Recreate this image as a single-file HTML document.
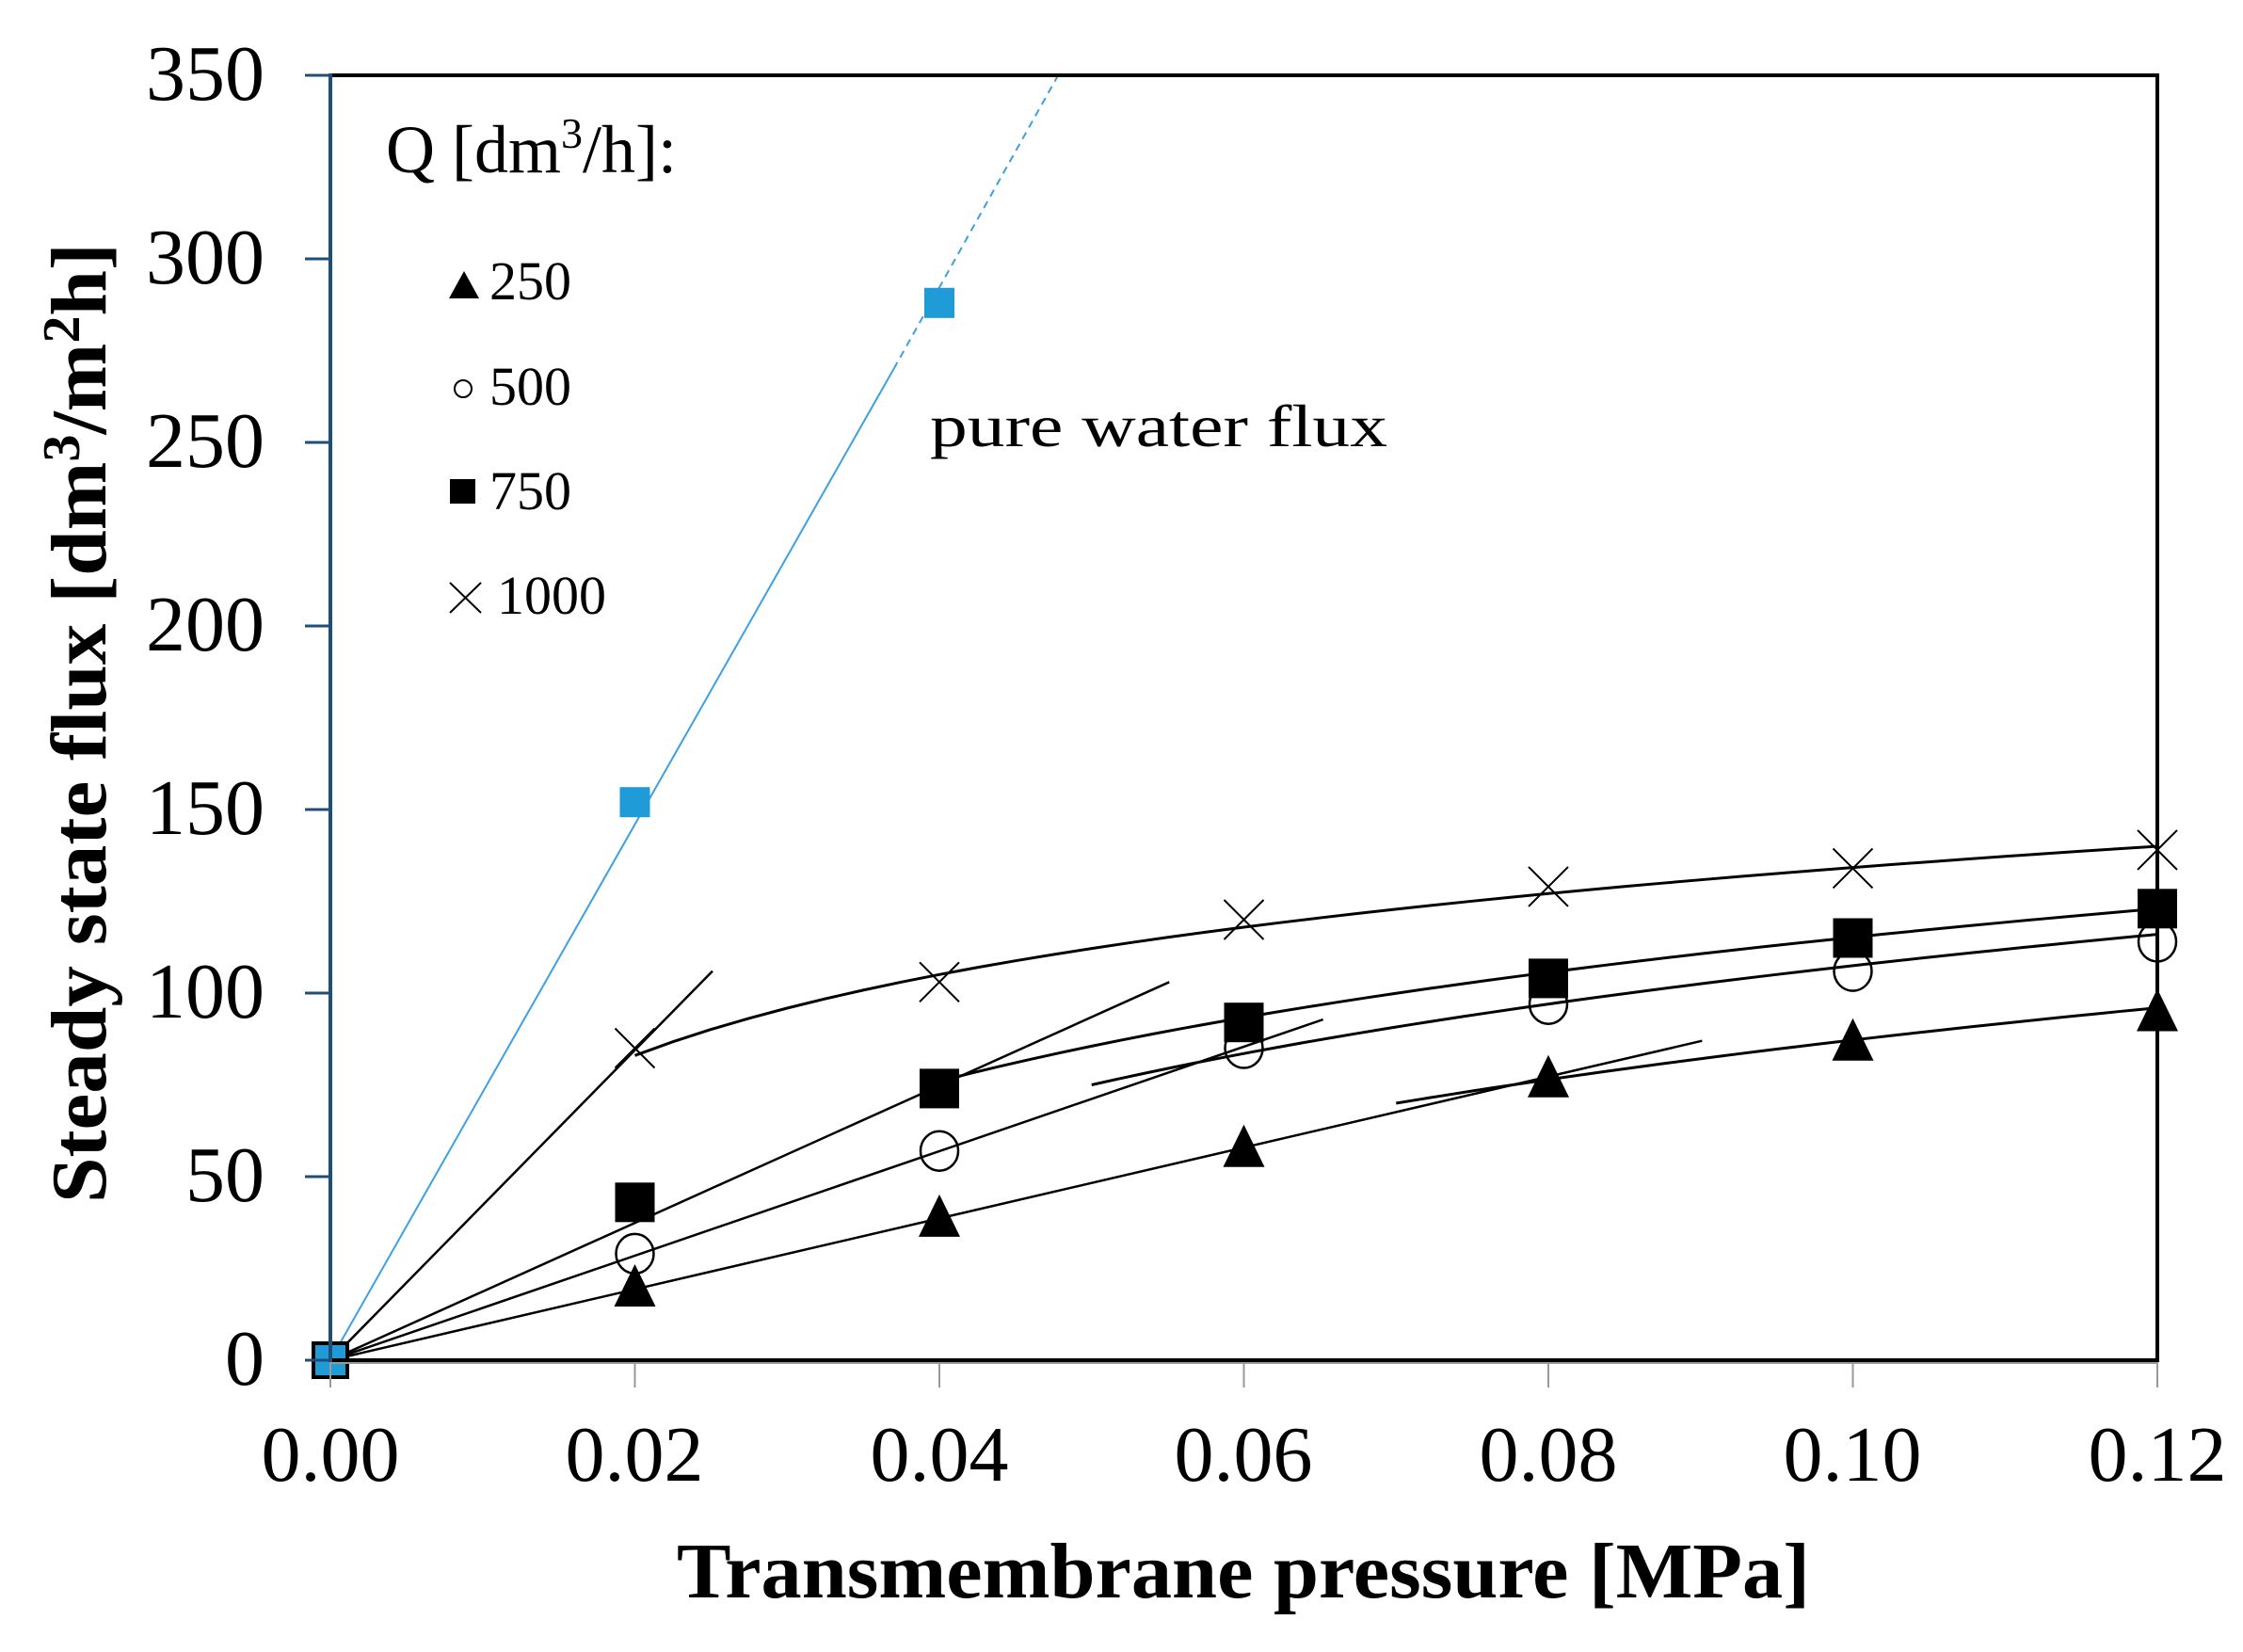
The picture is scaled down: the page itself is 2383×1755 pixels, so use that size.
<!DOCTYPE html>
<html><head><meta charset="utf-8"><style>
html,body{margin:0;padding:0;background:#fff;}
svg{display:block;}
text{font-family:"Liberation Serif",serif;fill:#000;}
</style></head><body>
<svg id="s" width="2383" height="1755" viewBox="0 0 2383 1755" xmlns="http://www.w3.org/2000/svg">
<rect width="2383" height="1755" fill="#fff"/>
<g font-size="84" text-anchor="end">
<text x="281" y="106">350</text>
<text x="281" y="301">300</text>
<text x="281" y="496">250</text>
<text x="281" y="691">200</text>
<text x="281" y="886">150</text>
<text x="281" y="1081">100</text>
<text x="281" y="1276">50</text>
<text x="281" y="1471">0</text>
</g>
<g font-size="84" text-anchor="middle">
<text x="351" y="1573">0.00</text>
<text x="674" y="1573">0.02</text>
<text x="998" y="1573">0.04</text>
<text x="1321" y="1573">0.06</text>
<text x="1645" y="1573">0.08</text>
<text x="1968" y="1573">0.10</text>
<text x="2292" y="1573">0.12</text>
</g>
<text x="1321" y="1697" font-size="84" font-weight="bold" text-anchor="middle" textLength="1204" lengthAdjust="spacingAndGlyphs">Transmembrane pressure [MPa]</text>
<text transform="translate(112,768) rotate(-90)" font-size="84" font-weight="bold" text-anchor="middle" textLength="1020" lengthAdjust="spacingAndGlyphs">Steady state flux [dm<tspan font-size="56" dy="-28">3</tspan><tspan dy="28">/m</tspan><tspan font-size="56" dy="-28">2</tspan><tspan dy="28">h]</tspan></text>
<text x="410" y="183" font-size="72">Q [dm<tspan font-size="46" dy="-26">3</tspan><tspan dy="26">/h]:</tspan></text>
<g font-size="58">
<text x="520" y="318">250</text>
<text x="520" y="430">500</text>
<text x="520" y="541">750</text>
<text x="528" y="652">1000</text>
</g>
<polygon points="477,317 509,317 493,288" fill="#000"/>
<circle cx="492" cy="413" r="9" fill="none" stroke="#000" stroke-width="2"/>
<rect x="478" y="509" width="27" height="26" fill="#000"/>
<path d="M478,619 L511,651 M511,619 L478,651" stroke="#000" stroke-width="2"/>
<text x="988" y="474" font-size="64" textLength="486" lengthAdjust="spacingAndGlyphs">pure water flux</text>
<g id="plot"></g>
<!-- frame -->
<path d="M351,80 H2292 V1445 H351" fill="none" stroke="#000" stroke-width="4"/>
<line x1="351" y1="1448" x2="2292" y2="1448" stroke="#999" stroke-width="2"/>
<line x1="351" y1="78" x2="351" y2="1447" stroke="#1f4e79" stroke-width="4"/>
<g stroke="#1f4e79" stroke-width="3" id="yt"></g>
<g stroke="#999" stroke-width="2" id="xt"></g>
</svg>
<script>
var NS="http://www.w3.org/2000/svg";
function X(x){return 351+x/0.02*323.5;}
function Y(y){return 1445-y/50*195;}
function el(p,t,a){var e=document.createElementNS(NS,t);for(var k in a)e.setAttribute(k,a[k]);p.appendChild(e);return e;}
var g=document.getElementById('plot');
var yt=document.getElementById('yt'),xt=document.getElementById('xt');
for(var i=0;i<=7;i++){el(yt,'line',{x1:324,x2:351,y1:Y(i*50),y2:Y(i*50)});}
for(var i=0;i<=6;i++){el(xt,'line',{x1:X(i*0.02),x2:X(i*0.02),y1:1447,y2:1474});}
function ln(x1,y1,x2,y2,c,w,d){var a={x1:X(x1),y1:Y(y1),x2:X(x2),y2:Y(y2),stroke:c||'#000','stroke-width':w||2.5};if(d)a['stroke-dasharray']=d;el(g,'line',a);}
function curve(x1,y1,x2,y2){var b=(y2-y1)/Math.log(x2/x1),pts=[];for(var i=0;i<=40;i++){var x=x1+(x2-x1)*i/40;pts.push(X(x)+','+Y(y1+b*Math.log(x/x1)));}el(g,'polyline',{points:pts.join(' '),fill:'none',stroke:'#000','stroke-width':3});}
// pure water
ln(0,0,0.037,270,'#3da0e0',2);
ln(0.037,270,0.0478,350,'#3da0e0',2,'8,6');
// straight lines
ln(0,0,0.0251,106);ln(0,0,0.0551,103);ln(0,0,0.0652,92.8);ln(0,0,0.0901,87);
curve(0.02,83,0.12,140);curve(0.04,76,0.12,123);curve(0.05,75,0.12,116);curve(0.07,70,0.12,96);
function tri(x,y){var cx=X(x),cy=Y(y);el(g,'polygon',{points:(cx-22)+','+(cy+21)+' '+(cx+22)+','+(cy+21)+' '+cx+','+(cy-24),fill:'#000'});}
function cir(x,y){el(g,'ellipse',{cx:X(x),cy:Y(y),rx:20,ry:21,fill:'none',stroke:'#000','stroke-width':2.5});}
function sq(x,y,c,s){s=s||42;el(g,'rect',{x:X(x)-s/2,y:Y(y)-s/2,width:s,height:s,fill:c||'#000'});}
function cr(x,y){var cx=X(x),cy=Y(y),s=21;el(g,'path',{d:'M'+(cx-s)+','+(cy-s)+'L'+(cx+s)+','+(cy+s)+'M'+(cx+s)+','+(cy-s)+'L'+(cx-s)+','+(cy+s),stroke:'#000','stroke-width':2});}
var xs=[0.02,0.04,0.06,0.08,0.10,0.12];
[20,39,58,77,87,95].forEach(function(v,i){tri(xs[i],v);});
[29,57,85,97,106,114].forEach(function(v,i){cir(xs[i],v);});
[43,74,92,104,115,123].forEach(function(v,i){sq(xs[i],v);});
[85,103,120,129,134,139].forEach(function(v,i){cr(xs[i],v);});
sq(0,0,'#000',40);sq(0,0,'#1f9bd7',32);
sq(0.02,152,'#1f9bd7',32);sq(0.04,288,'#1f9bd7',32);
</script>
</body></html>
